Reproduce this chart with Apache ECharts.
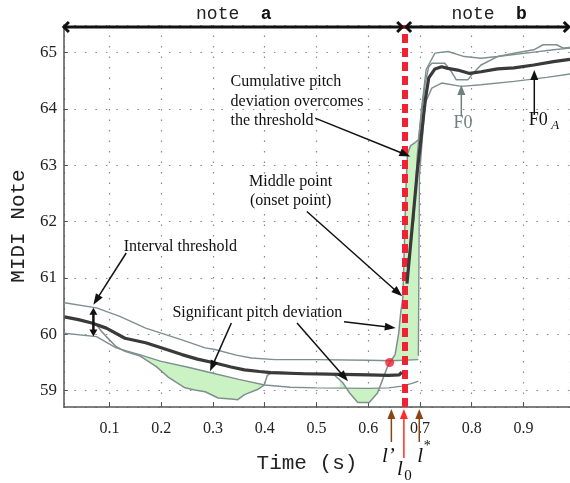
<!DOCTYPE html>
<html><head><meta charset="utf-8">
<script src="https://cdn.jsdelivr.net/npm/echarts@6/dist/echarts.min.js"></script>
<style>html,body{margin:0;padding:0;background:#fff}#c{width:570px;height:483px}</style>
</head><body><div id="c"></div>
<script>
// ---- data (time in s, pitch in MIDI note) ----
const f0Raw = [[0.013,60.31],[0.04,60.26],[0.066,60.2],[0.075,60.17],[0.085,60.05],[0.095,59.95],[0.113,59.78],[0.13,59.7],[0.158,59.62],[0.175,59.52],[0.19,59.43],[0.215,59.23],[0.246,59.05],[0.265,59.01],[0.285,58.98],[0.31,58.87],[0.335,58.85],[0.348,58.84],[0.361,58.93],[0.386,59.02],[0.399,59.1],[0.405,59.27],[0.415,59.33],[0.45,59.32],[0.5,59.31],[0.532,59.3],[0.551,59.14],[0.564,58.96],[0.58,58.79],[0.602,58.79],[0.618,58.96],[0.628,59.2],[0.637,59.42],[0.645,59.54],[0.652,59.64],[0.659,60.02],[0.663,60.4],[0.667,60.65],[0.67,61.6],[0.673,62.6],[0.676,63.2],[0.682,63.35],[0.69,63.4],[0.697,63.45],[0.703,63.9],[0.71,64.45],[0.717,64.75],[0.723,64.81],[0.748,64.81],[0.761,64.66],[0.77,64.52],[0.793,64.52],[0.802,64.63],[0.818,64.78],[0.85,64.93],[0.882,64.99],[0.92,65.05],[0.938,65.14],[0.964,65.14],[0.977,65.08],[0.99,65.09]];
const f0aNoteA = [[0.013,60.31],[0.04,60.26],[0.066,60.2],[0.094,60.11],[0.13,59.93],[0.17,59.85],[0.2,59.76],[0.24,59.64],[0.27,59.56],[0.304,59.49],[0.335,59.42],[0.361,59.37],[0.39,59.34],[0.412,59.32],[0.475,59.3],[0.55,59.29],[0.6,59.28],[0.64,59.27],[0.66,59.28],[0.665,59.33]];
const f0aNoteB = [[0.675,60.9],[0.685,61.9],[0.695,62.9],[0.704,63.63],[0.711,64.2],[0.717,64.55],[0.729,64.71],[0.742,64.75],[0.754,64.72],[0.773,64.69],[0.796,64.63],[0.818,64.66],[0.85,64.71],[0.882,64.73],[0.92,64.78],[0.958,64.84],[0.99,64.88]];
const upperA = [[0.013,60.56],[0.075,60.47],[0.12,60.32],[0.17,60.11],[0.24,59.9],[0.285,59.76],[0.304,59.73],[0.345,59.63],[0.374,59.58],[0.42,59.55],[0.5,59.55],[0.6,59.54],[0.645,59.53],[0.697,59.55]];
const lowerA = [[0.013,60.02],[0.075,59.96],[0.113,59.76],[0.158,59.64],[0.2,59.52],[0.25,59.42],[0.3,59.31],[0.35,59.2],[0.4,59.1],[0.45,59.06],[0.5,59.05],[0.6,59.04],[0.64,59.05],[0.665,59.08],[0.685,59.13],[0.697,59.17]];
const upperB = [[0.688,62.0],[0.695,63.2],[0.703,64.0],[0.712,64.7],[0.729,64.99],[0.754,65.02],[0.786,64.93],[0.818,64.9],[0.85,64.93],[0.913,65.0],[0.958,65.05],[0.99,65.08]];
const lowerB = [[0.697,59.62],[0.699,62.8],[0.71,64.1],[0.723,64.37],[0.742,64.46],[0.78,64.4],[0.818,64.43],[0.882,64.49],[0.945,64.56],[0.99,64.62]];
const deviationSpans = [[0.158,0.402,'low'],[0.545,0.622,'low'],[0.6415,0.697,'up']];
const onsetTime = 0.669, lPrimeTime = 0.6448, lStarTime = 0.6987;
const lPrimePoint = [[0.6415,59.5]];

function interp(a,t){for(let i=0;i<a.length-1;i++){if(t>=a[i][0]&&t<=a[i+1][0]){const f=(t-a[i][0])/(a[i+1][0]-a[i][0]);return a[i][1]+f*(a[i+1][1]-a[i][1]);}}return t<a[0][0]?a[0][1]:a[a.length-1][1];}
function between(a,b,t0,t1){
  const top=[[t0,interp(a,t0)],...a.filter(p=>p[0]>t0&&p[0]<t1),[t1,interp(a,t1)]];
  const bot=[[t0,interp(b,t0)],...b.filter(p=>p[0]>t0&&p[0]<t1),[t1,interp(b,t1)]];
  return top.concat(bot.reverse());
}
const polys = deviationSpans.map(s=>between(f0Raw, s[2]==='low'?lowerA:upperA, s[0], s[1]));

const GRAY='#7f8f8f', SERIF='"Liberation Serif","Times New Roman",serif', MONO='"Liberation Mono","Courier New",monospace';
const chart = echarts.init(document.getElementById('c'), null, {renderer:'canvas'});
const lineS = (data,color,w,z)=>({type:'line',data,symbol:'none',smooth:false,lineStyle:{color,width:w},z,silent:true,animation:false});
chart.setOption({
  animation:false,
  grid:{left:57,right:0,top:25,bottom:76},
  xAxis:{type:'value',min:0.012,max:0.99,splitNumber:10,
    name:'Time (s)',nameLocation:'middle',nameGap:46,nameTextStyle:{fontFamily:MONO,fontSize:21,color:'#222',padding:[0,20,0,0]},
    axisLine:{show:true,onZero:false,lineStyle:{color:'#555',width:1.5}},
    axisTick:{show:true,inside:true,length:5,lineStyle:{color:'#555'}},
    axisLabel:{showMinLabel:false,showMaxLabel:false,margin:14,fontFamily:SERIF,fontSize:16,color:'#222',
      formatter:v=>Math.abs(v*10-Math.round(v*10))<1e-6?v.toFixed(1):''},
    splitLine:{show:true,lineStyle:{type:[1.5,9],color:'#888',width:1.2}}},
  yAxis:{type:'value',min:58.71,max:65.49,splitNumber:7,
    name:'MIDI Note',nameLocation:'middle',nameGap:30,nameTextStyle:{fontFamily:MONO,fontSize:21,color:'#222',padding:[0,20,0,0]},
    axisLine:{show:true,onZero:false,lineStyle:{color:'#555',width:1.5}},
    axisTick:{show:true,inside:true,length:4,lineStyle:{color:'#555'}},
    axisLabel:{showMinLabel:false,showMaxLabel:false,margin:7,fontFamily:SERIF,fontSize:17,color:'#222',
      formatter:v=>Math.abs(v-Math.round(v))<1e-6?String(Math.round(v)):''},
    splitLine:{show:true,lineStyle:{type:[1.5,9],color:'#888',width:1.2}}},
  series:[
    ...polys.map(poly=>({type:'custom',silent:true,z:1,data:[[0,0]],
      renderItem:(p,api)=>({type:'polygon',shape:{points:poly.map(q=>api.coord(q))},style:{fill:'#cbf2c3',stroke:'none'}})})),
    lineS(upperA,GRAY,1.4,3), lineS(lowerA,GRAY,1.4,3), lineS(upperB,GRAY,1.4,3), lineS(lowerB,GRAY,1.4,3),
    lineS(f0Raw,GRAY,1.5,4),
    lineS(f0aNoteA,'#3a3a3a',3.2,5), lineS(f0aNoteB,'#3a3a3a',3.2,5),
    {type:'line',data:[],z:8,silent:true,markLine:{silent:true,symbol:'none',label:{show:false},
      lineStyle:{color:'#ee2233',width:6,type:[9,5]},data:[{xAxis:onsetTime}]}},
    {type:'scatter',data:lPrimePoint,symbolSize:9,itemStyle:{color:'#ee2233'},z:9,silent:true}
  ]
});

const P=(t,v)=>chart.convertToPixel({gridIndex:0},[t,v]);
function arrow(a,b,color,w,hl,hw){
  const dx=b[0]-a[0],dy=b[1]-a[1],L=Math.hypot(dx,dy),ux=dx/L,uy=dy/L,bx=b[0]-ux*hl,by=b[1]-uy*hl;
  return [{type:'line',shape:{x1:a[0],y1:a[1],x2:bx+ux*1,y2:by+uy*1},style:{stroke:color,lineWidth:w},z:100},
    {type:'polygon',shape:{points:[[b[0],b[1]],[bx-uy*hw/2,by+ux*hw/2],[bx+uy*hw/2,by-ux*hw/2]]},style:{fill:color},z:100}];
}
function chevron(tip,dir,color,s){
  return {type:'polyline',shape:{points:[[tip[0]-dir*s,tip[1]-s],[tip[0],tip[1]],[tip[0]-dir*s,tip[1]+s]]},style:{stroke:color,lineWidth:3,fill:null},z:100};
}
function txt(x,y,text,font,color,align){
  return {type:'text',x,y,z:101,style:{text,font,fill:color||'#111',align:align||'center',verticalAlign:'middle',textAlign:align||'center',textVerticalAlign:'middle'}};
}
const g=[];
const F16='16px '+SERIF;
// note arrows
const yN=27, xa0=P(0.012,65)[0], xa1=P(0.6657,65)[0], xb0=P(0.6733,65)[0], xb1=P(0.9876,65)[0];
g.push({type:'line',shape:{x1:xa0,y1:yN,x2:xa1,y2:yN},style:{stroke:'#111',lineWidth:3},z:100},chevron([xa0,yN],-1,'#111',5),chevron([xa1,yN],1,'#111',5));
g.push({type:'line',shape:{x1:xb0,y1:yN,x2:xb1,y2:yN},style:{stroke:'#111',lineWidth:3},z:100},chevron([xb0,yN],-1,'#111',5),chevron([xb1,yN],1,'#111',5));
g.push(txt((xa0+xa1)/2-10,14,'note ','18px '+MONO,'#222','center'));
g.push(txt((xa0+xa1)/2+33,14,'a','bold 18px '+MONO,'#111','center'));
g.push(txt((xb0+xb1)/2-9,14,'note ','18px '+MONO,'#222','center'));
g.push(txt((xb0+xb1)/2+34,14,'b','bold 18px '+MONO,'#111','center'));
// cumulative
let c=P(0.334,64.48);
g.push(txt(c[0],c[1],'Cumulative pitch',F16,'#111','left'));
g.push(txt(c[0],c[1]+20,'deviation overcomes',F16,'#111','left'));
g.push(txt(c[0],c[1]+39,'the threshold',F16,'#111','left'));
g.push(...arrow(P(0.4975,63.837),P(0.6815,63.156),'#111',1.5,11,8));
// middle point
c=P(0.45,62.713); g.push(txt(c[0],c[1],'Middle point',F16));
c=P(0.45,62.37); g.push(txt(c[0],c[1],'(onset point)',F16));
g.push(...arrow(P(0.4815,62.181),P(0.6657,60.674),'#111',1.5,11,8));
// significant
c=P(0.3857,60.379); g.push(txt(c[0],c[1],'Significant pitch deviation',F16));
g.push(...arrow(P(0.5533,60.225),P(0.6533,60.113),'#111',1.5,11,8));
g.push(...arrow(P(0.4625,60.202),P(0.561,59.167),'#111',1.5,11,8));
g.push(...arrow(P(0.3356,60.202),P(0.2943,59.344),'#111',1.5,11,8));
// interval threshold
c=P(0.2371,61.56); g.push(txt(c[0],c[1],'Interval threshold',F16));
g.push(...arrow(P(0.1324,61.443),P(0.069,60.527),'#111',1.5,11,8));
const m=P(0.069,(60.47+59.96)/2);
g.push(...arrow(m,P(0.069,60.47),'#111',2.5,7,8));
g.push(...arrow(m,P(0.069,59.96),'#111',2.5,7,8));
// F0 labels
c=P(0.7832,63.748); g.push(txt(c[0],c[1],'F0','18px '+SERIF,'#6f8080'));
g.push(...arrow(P(0.78,63.865),P(0.78,64.427),'#6f8080',1.5,10,8));
c=P(0.921,63.807); g.push(txt(c[0]+4,c[1],'F0','18px '+SERIF,'#111'));
g.push(txt(c[0]+21,c[1]+6,'A','italic 13px '+SERIF,'#111','center'));
g.push(...arrow(P(0.921,63.895),P(0.921,64.693),'#111',1.5,10,8));
// bottom arrows
const xl1=P(lPrimeTime,59)[0], xl0=P(onsetTime,59)[0], xl2=P(lStarTime,59)[0];
g.push(...arrow([xl1,442],[xl1,409],'#8b4513',1.5,10,8));
g.push(...arrow([xl0,458],[xl0,409],'#ff2a2a',1.5,10,8));
g.push(...arrow([xl2,442],[xl2,409],'#8b4513',1.5,10,8));
g.push(txt(xl1-3,456,'l’','italic 21px '+SERIF,'#111'));
g.push(txt(xl2+1,456,'l','italic 21px '+SERIF,'#111'));
g.push(txt(xl2+8,446,'*','14px '+SERIF,'#111'));
g.push(txt(xl0-4,469,'l','italic 21px '+SERIF,'#111'));
g.push(txt(xl0+4,476,'0','15px '+SERIF,'#111'));
chart.setOption({graphic:{elements:g}});
</script></body></html>
